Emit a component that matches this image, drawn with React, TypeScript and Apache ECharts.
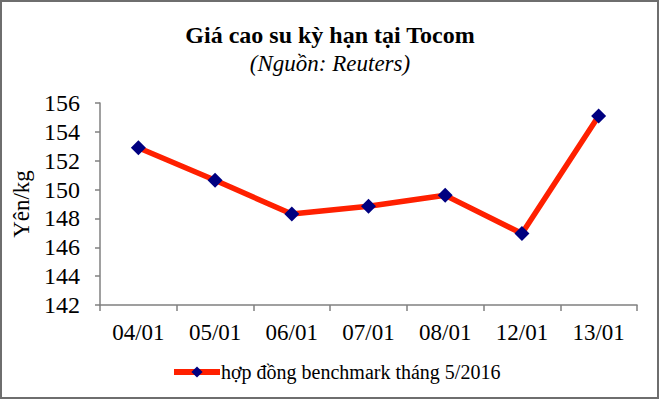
import React, { useEffect, useRef } from "react";
import * as echarts from "echarts";

const categories = ["04/01", "05/01", "06/01", "07/01", "08/01", "12/01", "13/01"];
const prices = [152.9, 150.65, 148.3, 148.85, 149.6, 146.95, 155.1];
const seriesName = "hợp đồng benchmark tháng 5/2016";
const titleText = "Giá cao su kỳ hạn tại Tocom";
const subtitleText = "(Nguồn: Reuters)";
const yAxisName = "Yên/kg";

const FONT = "'Liberation Serif', 'Times New Roman', serif";

export default function App() {
  const ref = useRef<HTMLDivElement>(null);
  useEffect(() => {
    if (!ref.current) return;
    const chart = echarts.init(ref.current, null, { renderer: "svg" });
    chart.setOption({
      animation: false,
      backgroundColor: "#ffffff",
      title: {
        text: titleText,
        subtext: subtitleText,
        left: "center",
        top: 18,
        itemGap: 5,
        textStyle: { fontFamily: FONT, fontSize: 24, fontWeight: "bold", color: "#000" },
        subtextStyle: { fontFamily: FONT, fontSize: 23, fontStyle: "italic", color: "#000" },
      },
      grid: { left: 100, right: 23, top: 103, bottom: 95, containLabel: false },
      legend: {
        bottom: 13,
        left: 166,
        itemWidth: 46,
        itemHeight: 14,
        itemGap: 0,
        lineStyle: { width: 6 },
        textStyle: { fontFamily: FONT, fontSize: 20, color: "#000", padding: [0, 0, 0, -4] },
        data: [seriesName],
      },
      xAxis: {
        type: "category",
        data: categories,
        boundaryGap: true,
        axisLine: { lineStyle: { color: "#808080", width: 1.5 } },
        axisTick: { show: true, length: 6, alignWithLabel: false, lineStyle: { color: "#808080", width: 1.5 } },
        axisLabel: { fontFamily: FONT, fontSize: 23, color: "#000", margin: 16 },
      },
      yAxis: {
        type: "value",
        min: 142,
        max: 156,
        interval: 2,
        name: yAxisName,
        nameLocation: "middle",
        nameGap: 66,
        nameRotate: 90,
        nameTextStyle: { fontFamily: FONT, fontSize: 23, color: "#000" },
        splitLine: { show: false },
        axisLine: { show: true, lineStyle: { color: "#808080", width: 1.5 } },
        axisTick: { show: true, length: 5, inside: false, lineStyle: { color: "#808080", width: 1.5 } },
        axisLabel: { fontFamily: FONT, fontSize: 24, color: "#000", margin: 20 },
      },
      series: [
        {
          name: seriesName,
          type: "line",
          data: prices,
          symbol: "diamond",
          symbolSize: 15,
          lineStyle: { color: "#ff2000", width: 5.5 },
          itemStyle: { color: "#000080" },
        },
      ],
      graphic: [
        {
          type: "rect",
          shape: { x: 1, y: 1, width: 657, height: 397 },
          style: { fill: "none", stroke: "#6e6e6e", lineWidth: 2 },
          silent: true,
        },
      ],
    });
    return () => chart.dispose();
  }, []);
  return (
    <div
      ref={ref}
      style={{ position: "fixed", left: 0, top: 0, width: 660, height: 400 }}
    />
  );
}
